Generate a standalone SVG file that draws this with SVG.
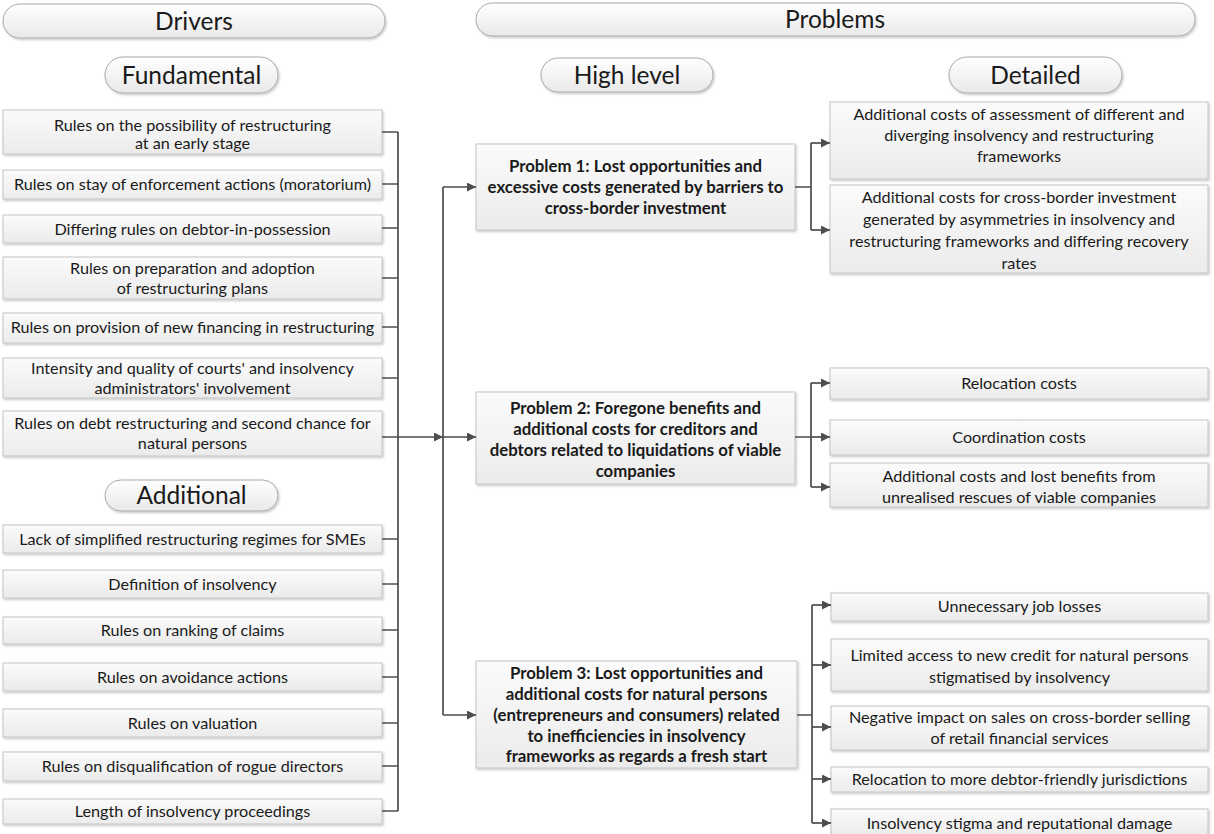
<svg xmlns="http://www.w3.org/2000/svg" width="1214" height="834" viewBox="0 0 1214 834">
<defs>
<linearGradient id="gBox" x1="0" y1="0" x2="0" y2="1">
<stop offset="0" stop-color="#fbfbfb"/>
<stop offset="1" stop-color="#ebebeb"/>
</linearGradient>
<linearGradient id="gPill" x1="0" y1="0" x2="0" y2="1">
<stop offset="0" stop-color="#ffffff"/>
<stop offset="1" stop-color="#e9e9e9"/>
</linearGradient>
<filter id="sh" x="-5%" y="-20%" width="110%" height="150%">
<feDropShadow dx="1.2" dy="1.5" stdDeviation="0.8" flood-color="#000" flood-opacity="0.22"/>
</filter>
<marker id="ar" viewBox="0 0 10 10" refX="10" refY="5" markerWidth="11" markerHeight="9" markerUnits="userSpaceOnUse" orient="auto">
<path d="M0,0 L10,5 L0,10 z" fill="#4d4d4d"/>
</marker>
<style>
.box{fill:url(#gBox);stroke:#c4c4c4;stroke-width:1;filter:url(#sh)}
.pill{fill:url(#gPill);stroke:#a8a8a8;stroke-width:1;filter:url(#sh)}
.t{font-family:Lato,"Liberation Sans",sans-serif;font-size:16.2px;fill:#1a1a1a;text-anchor:middle}
.b{font-family:Lato,"Liberation Sans",sans-serif;font-size:16.8px;font-weight:bold;fill:#1a1a1a;text-anchor:middle}
.h{font-family:Lato,"Liberation Sans",sans-serif;font-size:24.5px;fill:#1a1a1a;text-anchor:middle}
.c{fill:none;stroke:#4d4d4d;stroke-width:1.7}
.a{fill:none;stroke:#4d4d4d;stroke-width:1.7;marker-end:url(#ar)}
</style>
</defs>

<g id="headers">
<g id="pill-drivers"><rect class="pill" x="3" y="4" width="382" height="34" rx="17"/><text class="h" x="194" y="30">Drivers</text></g>
<g id="pill-problems"><rect class="pill" x="476" y="3" width="719" height="33" rx="16.5"/><text class="h" x="835" y="28">Problems</text></g>
<g id="pill-fundamental"><rect class="pill" x="105" y="57" width="173" height="36" rx="18"/><text class="h" x="191.5" y="84">Fundamental</text></g>
<g id="pill-highlevel"><rect class="pill" x="541" y="58" width="172" height="34" rx="17"/><text class="h" x="627" y="84">High level</text></g>
<g id="pill-detailed"><rect class="pill" x="949" y="57" width="173" height="36" rx="18"/><text class="h" x="1035.5" y="84">Detailed</text></g>
<g id="pill-additional"><rect class="pill" x="105" y="480" width="173" height="31" rx="15.5"/><text class="h" x="191.5" y="504">Additional</text></g>
</g>

<g id="drivers">
<g id="d1"><rect class="box" x="3" y="110" width="379" height="44"/><text class="t" x="192.5" y="131">Rules on the possibility of restructuring</text><text class="t" x="192.5" y="149">at an early stage</text></g>
<g id="d2"><rect class="box" x="3" y="170" width="379" height="29"/><text class="t" x="192.5" y="190">Rules on stay of enforcement actions (moratorium)</text></g>
<g id="d3"><rect class="box" x="3" y="215" width="379" height="28"/><text class="t" x="192.5" y="235">Differing rules on debtor-in-possession</text></g>
<g id="d4"><rect class="box" x="3" y="257" width="379" height="42"/><text class="t" x="192.5" y="274">Rules on preparation and adoption</text><text class="t" x="192.5" y="294">of restructuring plans</text></g>
<g id="d5"><rect class="box" x="3" y="313" width="379" height="30"/><text class="t" x="192.5" y="333">Rules on provision of new financing in restructuring</text></g>
<g id="d6"><rect class="box" x="3" y="358" width="379" height="40"/><text class="t" x="192.5" y="374">Intensity and quality of courts' and insolvency</text><text class="t" x="192.5" y="394">administrators' involvement</text></g>
<g id="d7"><rect class="box" x="3" y="411" width="379" height="45"/><text class="t" x="192.5" y="429">Rules on debt restructuring and second chance for</text><text class="t" x="192.5" y="449">natural persons</text></g>
<g id="d8"><rect class="box" x="3" y="525" width="379" height="28"/><text class="t" x="192.5" y="545">Lack of simplified restructuring regimes for SMEs</text></g>
<g id="d9"><rect class="box" x="3" y="570" width="379" height="28"/><text class="t" x="192.5" y="590">Definition of insolvency</text></g>
<g id="d10"><rect class="box" x="3" y="617" width="379" height="27"/><text class="t" x="192.5" y="636">Rules on ranking of claims</text></g>
<g id="d11"><rect class="box" x="3" y="663" width="379" height="28"/><text class="t" x="192.5" y="683">Rules on avoidance actions</text></g>
<g id="d12"><rect class="box" x="3" y="709" width="379" height="28"/><text class="t" x="192.5" y="729">Rules on valuation</text></g>
<g id="d13"><rect class="box" x="3" y="752" width="379" height="29"/><text class="t" x="192.5" y="772">Rules on disqualification of rogue directors</text></g>
<g id="d14"><rect class="box" x="3" y="799" width="379" height="25"/><text class="t" x="192.5" y="817">Length of insolvency proceedings</text></g>
</g>

<g id="problems">
<g id="p1"><rect class="box" x="476" y="144" width="319" height="86"/><text class="b" x="635.5" y="172">Problem 1: Lost opportunities and</text><text class="b" x="635.5" y="193">excessive costs generated by barriers to</text><text class="b" x="635.5" y="214">cross-border investment</text></g>
<g id="p2"><rect class="box" x="476" y="392" width="319" height="92"/><text class="b" x="635.5" y="414">Problem 2: Foregone benefits and</text><text class="b" x="635.5" y="435">additional costs for creditors and</text><text class="b" x="635.5" y="456">debtors related to liquidations of viable</text><text class="b" x="635.5" y="477">companies</text></g>
<g id="p3"><rect class="box" x="476" y="661" width="321" height="107"/><text class="b" x="636.5" y="679">Problem 3: Lost opportunities and</text><text class="b" x="636.5" y="700">additional costs for natural persons</text><text class="b" x="636.5" y="721">(entrepreneurs and consumers) related</text><text class="b" x="636.5" y="742">to inefficiencies in insolvency</text><text class="b" x="636.5" y="762">frameworks as regards a fresh start</text></g>
</g>

<g id="detailed">
<g id="e1"><rect class="box" x="830" y="102" width="378" height="77"/><text class="t" x="1019" y="120">Additional costs of assessment of different and</text><text class="t" x="1019" y="141">diverging insolvency and restructuring</text><text class="t" x="1019" y="162">frameworks</text></g>
<g id="e2"><rect class="box" x="830" y="185" width="378" height="88"/><text class="t" x="1019" y="203">Additional costs for cross-border investment</text><text class="t" x="1019" y="225">generated by asymmetries in insolvency and</text><text class="t" x="1019" y="247">restructuring frameworks and differing recovery</text><text class="t" x="1019" y="269">rates</text></g>
<g id="e3"><rect class="box" x="830" y="368" width="378" height="31"/><text class="t" x="1019" y="389">Relocation costs</text></g>
<g id="e4"><rect class="box" x="830" y="420" width="378" height="35"/><text class="t" x="1019" y="443">Coordination costs</text></g>
<g id="e5"><rect class="box" x="830" y="463" width="378" height="44"/><text class="t" x="1019" y="482">Additional costs and lost benefits from</text><text class="t" x="1019" y="503">unrealised rescues of viable companies</text></g>
<g id="e6"><rect class="box" x="831" y="593" width="377" height="28"/><text class="t" x="1019.5" y="612">Unnecessary job losses</text></g>
<g id="e7"><rect class="box" x="831" y="639" width="377" height="52"/><text class="t" x="1019.5" y="661">Limited access to new credit for natural persons</text><text class="t" x="1019.5" y="683">stigmatised by insolvency</text></g>
<g id="e8"><rect class="box" x="831" y="706" width="377" height="44"/><text class="t" x="1019.5" y="723">Negative impact on sales on cross-border selling</text><text class="t" x="1019.5" y="744">of retail financial services</text></g>
<g id="e9"><rect class="box" x="831" y="767" width="377" height="25"/><text class="t" x="1019.5" y="785">Relocation to more debtor-friendly jurisdictions</text></g>
<g id="e10"><rect class="box" x="831" y="809" width="377" height="26"/><text class="t" x="1019.5" y="829">Insolvency stigma and reputational damage</text></g>
</g>

<g id="connectors">
<path class="c" d="M382,132H398 M382,184H398 M382,228H398 M382,278H398 M382,327H398 M382,378H398 M382,539H398 M382,584H398 M382,630H398 M382,677H398 M382,723H398 M382,766H398 M382,811H398 M398,132V811"/>
<path class="a" d="M382,437H443"/>
<path class="c" d="M443,187V715"/>
<path class="a" d="M443,187H476"/>
<path class="a" d="M443,437H476"/>
<path class="a" d="M443,715H476"/>
<path class="c" d="M795,187H811 M811,143V230 M795,437H811 M811,383V487 M797,715H812 M812,605V823"/>
<path class="a" d="M811,143H830"/>
<path class="a" d="M811,230H830"/>
<path class="a" d="M811,383H830"/>
<path class="a" d="M811,437H830"/>
<path class="a" d="M811,487H830"/>
<path class="a" d="M812,605H831"/>
<path class="a" d="M812,665H831"/>
<path class="a" d="M812,727H831"/>
<path class="a" d="M812,779H831"/>
<path class="a" d="M812,823H831"/>
</g>
</svg>
